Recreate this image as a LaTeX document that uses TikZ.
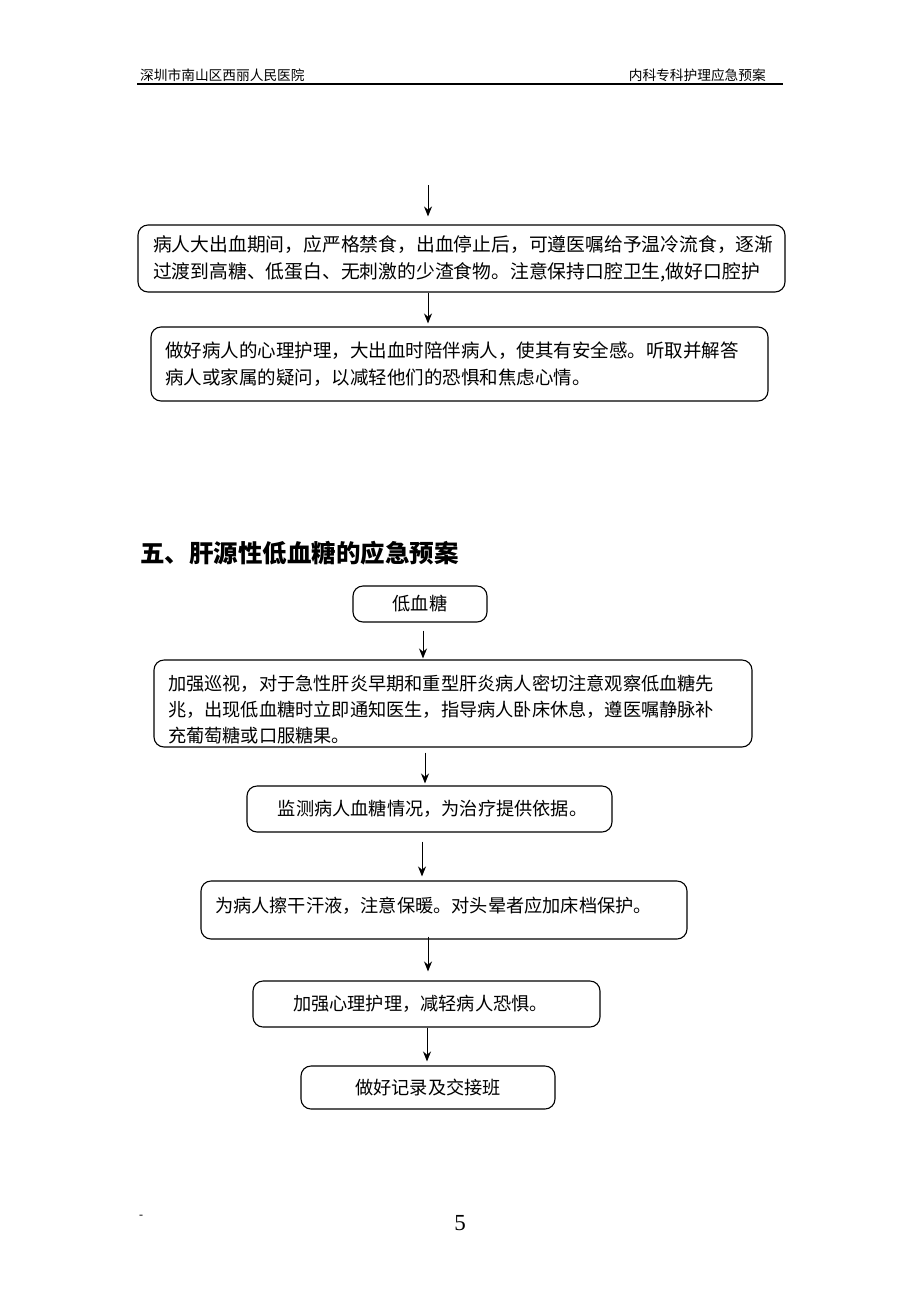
\documentclass[tikz,border=0pt]{standalone}
\usepackage{fontspec}
\setmainfont{Liberation Serif}
\newfontfamily\cjk{Noto Sans CJK SC}
\usetikzlibrary{arrows.meta}
\begin{document}
\begin{tikzpicture}[x=1pt,y=-1pt,
  box/.style={draw, line width=1.1pt, rounded corners=10pt, inner ysep=0pt},
  arr/.style={-{Stealth[length=10pt,width=8pt]}, line width=1pt},
  hdr/.style={inner sep=0pt, font=\cjk\fontsize{13.7}{16}\selectfont},
]
\useasboundingbox (0,0) rectangle (920,1302);
\fill[white] (0,0) rectangle (920,1302);

% header
\node[hdr, anchor=west] (hl) at (140,75) {深圳市南山区西丽人民医院};
\node[hdr, anchor=east] (hr) at (766,75) {内科专科护理应急预案};
\coordinate (hl0) at (137,84);
\coordinate (hl1) at (783,84);
\draw[line width=1.4pt] (hl0) -- (hl1);

% upper part
\coordinate (s0) at (428,185);
\node[box, text width=617pt, inner xsep=15pt, minimum height=67pt, align=left,
      font=\cjk\fontsize{18.8}{27}\selectfont] (b1) at (461.5,258.5)
  {病人大出血期间，应严格禁食，出血停止后，可遵医嘱给予温冷流食，逐渐\\过渡到高糖、低蛋白、无刺激的少渣食物。注意保持口腔卫生,做好口腔护};
\node[box, text width=589pt, inner xsep=14pt, minimum height=74pt, align=left,
      font=\cjk\fontsize{18.5}{27}\selectfont] (b2) at (459.5,364)
  {做好病人的心理护理，大出血时陪伴病人，使其有安全感。听取并解答\\病人或家属的疑问，以减轻他们的恐惧和焦虑心情。};
\draw[arr, shorten >=8pt] (s0) -- (b1.north -| s0);
\draw[arr, shorten >=3pt] (b1.south -| s0) -- (b2.north -| s0);

% heading
\node[inner sep=0pt, anchor=west, font=\cjk\bfseries\fontsize{24.5}{28}\selectfont] (title) at (140,553)
  {五、肝源性低血糖的应急预案};

% lower flowchart
\node[box, minimum width=134pt, minimum height=36pt, font=\cjk\fontsize{18.2}{26}\selectfont] (lo) at (420,604) {低血糖};
\node[box, text width=570pt, inner xsep=14pt, minimum height=87pt, align=left,
      font=\cjk\fontsize{18.2}{26}\selectfont] (b3) at (453,703.5)
  {\rule{0pt}{28pt}加强巡视，对于急性肝炎早期和重型肝炎病人密切注意观察低血糖先\\兆，出现低血糖时立即通知医生，指导病人卧床休息，遵医嘱静脉补\\充葡萄糖或口服糖果。};
\node[box, minimum width=365pt, minimum height=46pt, font=\cjk\fontsize{18.2}{26}\selectfont] (b4) at (429.5,809)
  {\hspace*{6pt}监测病人血糖情况，为治疗提供依据。};
\node[box, text width=458pt, inner xsep=14pt, minimum height=58pt, align=left,
      font=\cjk\fontsize{18.2}{26}\selectfont] (b5) at (444,910)
  {为病人擦干汗液，注意保暖。对头晕者应加床档保护。\\[-23pt]\strut};
\node[box, minimum width=347pt, minimum height=46pt, font=\cjk\fontsize{18.2}{26}\selectfont] (b6) at (426.5,1004)
  {加强心理护理，减轻病人恐惧。\hspace*{12pt}};
\node[box, minimum width=254pt, minimum height=43pt, font=\cjk\fontsize{18.2}{26}\selectfont] (b7) at (428,1087.5)
  {做好记录及交接班};

\coordinate (c2) at (423,0);
\coordinate (c3) at (425,0);
\coordinate (c4) at (422,0);
\coordinate (c5) at (428,0);
\coordinate (c6) at (427,0);
\draw[arr, shorten <=8pt, shorten >=1pt] (lo.south -| c2) -- (b3.north -| c2);
\draw[arr, shorten <=5pt, shorten >=2pt] (b3.south -| c3) -- (b4.north -| c3);
\draw[arr, shorten <=9pt, shorten >=4pt] (b4.south -| c4) -- (b5.north -| c4);
\draw[arr, shorten <=-3pt, shorten >=9pt] (b5.south -| c5) -- (b6.north -| c5);
\draw[arr, shorten >=4pt] (b6.south -| c6) -- (b7.north -| c6);

% footer
\node[inner sep=0pt, font=\fontsize{12}{14}\selectfont] (dash) at (141,1217) {-};
\node[inner sep=0pt, font=\fontsize{23}{26}\selectfont] (pg) at (460,1223) {5};
\end{tikzpicture}
\end{document}
